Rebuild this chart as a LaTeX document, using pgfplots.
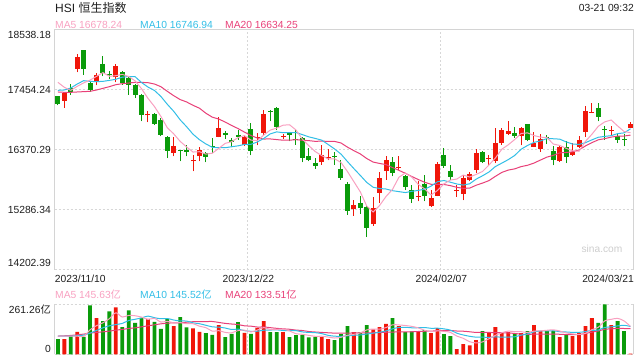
\documentclass[border=0pt]{standalone}
\usepackage{pgfplots}
\pgfplotsset{compat=1.18}
\usepackage{fontspec}
\setmainfont{Liberation Sans}
\newfontfamily\cjk{Noto Sans CJK SC}
\definecolor{upred}{RGB}{240,22,10}
\definecolor{dngreen}{RGB}{10,155,10}
\definecolor{maA}{RGB}{248,160,192}
\definecolor{maB}{RGB}{50,190,230}
\definecolor{maC}{RGB}{232,64,120}
\definecolor{gridc}{RGB}{215,215,215}
\definecolor{framec}{RGB}{212,212,212}
\definecolor{txt}{RGB}{30,30,30}
\definecolor{wm}{RGB}{205,205,205}
\pgfplotsset{
  kpanel/.style={
    scale only axis, width=579bp, xmin=-0.5, xmax=89.5,
    enlargelimits=false, scaled x ticks=false, scaled y ticks=false,
    axis line style={draw=none}, major tick length=0pt,
    xtick={29.5,59.5}, xticklabels={}, yticklabels={},
    xmajorgrids, ymajorgrids,
    major grid style={gridc, line width=0.9bp, dash pattern=on 2bp off 2bp},
    clip=false, unbounded coords=jump,
  },
  wick/.style={line width=1bp},
  body/.style={line width=5bp},
  maline/.style={line width=1bp, no marks},
}
\newcommand{\sz}[1]{\fontsize{#1}{#1}\selectfont}
\begin{document}
\begin{tikzpicture}[x=1bp,y=1bp]
\useasboundingbox (0,0) rectangle (640,360);
% ---------------- main candlestick panel ----------------
\begin{axis}[kpanel, at={(54.7bp,90.3bp)}, anchor=south west, height=240bp,
  ymin=14202.39, ymax=18538.18,
  ytick={14202.39,15286.34,16370.29,17454.24,18538.18}]
\draw[framec, line width=1bp] (rel axis cs:0,0) -- (rel axis cs:0,1) -- (rel axis cs:1,1) -- (rel axis cs:1,0);
% red wicks
\addplot[wick, upred] coordinates {
(1,17124)(1,17407)(1,nan) (3,17768)(3,18099)(3,nan) (6,17533)(6,17756)(6,nan) (9,17587)(9,17925)(9,nan)
(14,16865)(14,17063)(14,nan) (18,16250)(18,16594)(18,nan) (21,15979)(21,16269)(21,nan) (22,16160)(22,16413)(22,nan)
(25,16594)(25,16961)(25,nan) (29,16443)(29,16642)(29,nan) (31,16449)(31,16672)(31,nan) (32,16642)(32,17094)(32,nan)
(35,16564)(35,16654)(35,nan) (41,16100)(41,16449)(41,nan) (42,16178)(42,16389)(42,nan) (46,15179)(46,15456)(46,nan)
(49,14998)(49,15516)(49,nan) (50,15407)(50,15967)(50,nan) (51,15829)(51,16250)(51,nan) (53,16010)(53,16250)(53,nan)
(56,15438)(56,15799)(56,nan) (58,15335)(58,15648)(58,nan) (59,15528)(59,16148)(59,nan) (62,15522)(62,15733)(62,nan)
(63,15456)(63,15919)(63,nan) (64,15799)(64,15967)(64,nan) (65,15949)(65,16389)(65,nan) (67,16070)(67,16269)(67,nan)
(68,16130)(68,16762)(68,nan) (69,16461)(69,16762)(69,nan) (70,16642)(70,16895)(70,nan) (72,16449)(72,16780)(72,nan)
(74,16419)(74,16684)(74,nan) (75,16329)(75,16654)(75,nan) (78,16148)(78,16461)(78,nan) (80,16263)(80,16491)(80,nan)
(81,16401)(81,16612)(81,nan) (82,16600)(82,17166)(82,nan) (83,17033)(83,17214)(83,nan) (86,16642)(86,16792)(86,nan)
(89,16762)(89,16865)};
% red bodies (open, close)
\addplot[body, upred] coordinates {
(1,17256)(1,17395)(1,nan) (3,17834)(3,18045)(3,nan) (6,17617)(6,17726)(6,nan) (9,17678)(9,17882)(9,nan)
(14,16991)(14,17015)(14,nan) (18,16311)(18,16443)(18,nan) (21,16160)(21,16178)(21,nan) (22,16250)(22,16371)(22,nan)
(25,16606)(25,16762)(25,nan) (29,16461)(29,16600)(29,nan) (31,16582)(31,16600)(31,nan) (32,16672)(32,17015)(32,nan)
(35,16606)(35,16618)(35,nan) (41,16148)(41,16281)(41,nan) (42,16232)(42,16244)(42,nan) (46,15299)(46,15365)(46,nan)
(49,15028)(49,15311)(49,nan) (50,15594)(50,15859)(50,nan) (51,15992)(51,16184)(51,nan) (53,16040)(53,16058)(53,nan)
(56,15522)(56,15534)(56,nan) (58,15347)(58,15498)(58,nan) (59,15540)(59,16112)(59,nan) (62,15624)(62,15636)(62,nan)
(63,15576)(63,15859)(63,nan) (64,15817)(64,15937)(64,nan) (65,16010)(65,16311)(65,nan) (67,16202)(67,16214)(67,nan)
(68,16172)(68,16491)(68,nan) (69,16491)(69,16732)(69,nan) (70,16654)(70,16708)(70,nan) (72,16624)(72,16762)(72,nan)
(74,16425)(74,16491)(74,nan) (75,16389)(75,16564)(75,nan) (78,16172)(78,16413)(78,nan) (80,16281)(80,16329)(80,nan)
(81,16419)(81,16552)(81,nan) (82,16690)(82,17075)(82,nan) (83,17039)(83,17051)(83,nan) (86,16702)(86,16720)(86,nan)
(89,16762)(89,16835)};
% green wicks
\addplot[wick, dngreen] coordinates {
(0,17172)(0,17346)(0,nan) (2,17365)(2,17557)(2,nan) (4,17726)(4,18171)(4,nan) (5,17413)(5,17605)(5,nan)
(7,17696)(7,18057)(7,nan) (8,17654)(8,17798)(8,nan) (10,17545)(10,17786)(10,nan) (11,17365)(11,17678)(11,nan)
(12,17304)(12,17557)(12,nan) (13,16883)(13,17377)(13,nan) (15,16823)(15,17033)(15,nan) (16,16612)(16,16943)(16,nan)
(17,16220)(17,16612)(17,nan) (19,16160)(19,16371)(19,nan) (20,16250)(20,16461)(20,nan) (23,16142)(23,16323)(23,nan)
(24,16311)(24,16582)(24,nan) (26,16564)(26,16702)(26,nan) (27,16413)(27,16582)(27,nan) (28,16552)(28,16732)(28,nan)
(30,16269)(30,16853)(30,nan) (33,16883)(33,17094)(33,nan) (34,16732)(34,17142)(34,nan) (36,16521)(36,16690)(36,nan)
(37,16461)(37,16732)(37,nan) (38,16142)(38,16594)(38,nan) (39,16160)(39,16401)(39,nan) (40,16028)(40,16220)(40,nan)
(43,16100)(43,16329)(43,nan) (44,15829)(44,16190)(44,nan) (45,15197)(45,15781)(45,nan) (47,15209)(47,15528)(47,nan)
(48,14793)(48,15347)(48,nan) (52,15889)(52,16232)(52,nan) (54,15648)(54,15919)(54,nan) (55,15407)(55,15739)(55,nan)
(57,15438)(57,15907)(57,nan) (60,16040)(60,16401)(60,nan) (61,15829)(61,16088)(61,nan) (66,16130)(66,16341)(66,nan)
(71,16582)(71,16780)(71,nan) (73,16521)(73,16841)(73,nan) (76,16473)(76,16642)(76,nan) (77,16088)(77,16443)(77,nan)
(79,16130)(79,16521)(79,nan) (84,16883)(84,17214)(84,nan) (85,16552)(85,16792)(85,nan) (87,16491)(87,16672)(87,nan)
(88,16431)(88,16654)};
% green bodies (open, close)
\addplot[body, dngreen] coordinates {
(0,17334)(0,17196)(0,nan) (2,17485)(2,17413)(2,nan) (4,18165)(4,17834)(4,nan) (5,17575)(5,17455)(5,nan)
(7,17919)(7,17756)(7,nan) (8,17738)(8,17714)(8,nan) (10,17768)(10,17575)(10,nan) (11,17666)(11,17533)(11,nan)
(12,17545)(12,17365)(12,nan) (13,17365)(13,17003)(13,nan) (15,17015)(15,16841)(15,nan) (16,16913)(16,16642)(16,nan)
(17,16600)(17,16341)(17,nan) (19,16359)(19,16341)(19,nan) (20,16359)(20,16335)(20,nan) (23,16311)(23,16232)(23,nan)
(24,16437)(24,16419)(24,nan) (26,16672)(26,16642)(26,nan) (27,16552)(27,16515)(27,nan) (28,16636)(28,16606)(28,nan)
(30,16744)(30,16353)(30,nan) (33,17069)(33,17051)(33,nan) (34,17124)(34,16780)(34,nan) (36,16672)(36,16642)(36,nan)
(37,16564)(37,16546)(37,nan) (38,16582)(38,16220)(38,nan) (39,16250)(39,16190)(39,nan) (40,16130)(40,16082)(40,nan)
(43,16257)(43,16232)(43,nan) (44,16022)(44,15859)(44,nan) (45,15757)(45,15269)(45,nan) (47,15407)(47,15317)(47,nan)
(48,15335)(48,14956)(48,nan) (52,16148)(52,15949)(52,nan) (54,15901)(54,15696)(54,nan) (55,15636)(55,15486)(55,nan)
(57,15757)(57,15540)(57,nan) (60,16275)(60,16082)(60,nan) (61,15979)(61,15877)(61,nan) (66,16329)(66,16148)(66,nan)
(71,16672)(71,16624)(71,nan) (73,16835)(73,16546)(73,nan) (76,16606)(76,16588)(76,nan) (77,16341)(77,16178)(77,nan)
(79,16413)(79,16238)(79,nan) (84,17124)(84,16961)(84,nan) (85,16738)(85,16726)(85,nan) (87,16624)(87,16540)(87,nan)
(88,16558)(88,16546)};
% MA20
\addplot[maline, maC] coordinates {
(0,17413)(1,17407)(2,17407)(3,17413)(4,17419)(5,17425)(6,17449)(7,17479)(8,17509)(9,17545)
(10,17563)(11,17575)(12,17587)(13,17587)(14,17581)(15,17557)(16,17509)(17,17425)(18,17346)(19,17276)
(20,17233)(21,17172)(22,17120)(23,17029)(24,16958)(25,16924)(26,16870)(27,16808)(28,16752)(29,16688)
(30,16627)(31,16580)(32,16563)(33,16565)(34,16553)(35,16542)(36,16542)(37,16552)(38,16541)(39,16534)
(40,16521)(41,16526)(42,16520)(43,16520)(44,16492)(45,16417)(46,16353)(47,16294)(48,16211)(49,16147)
(50,16122)(51,16101)(52,16048)(53,15998)(54,15944)(55,15887)(56,15832)(57,15782)(58,15746)(59,15742)
(60,15742)(61,15721)(62,15691)(63,15672)(64,15676)(65,15728)(66,15767)(67,15812)(68,15889)(69,15960)
(70,16002)(71,16024)(72,16065)(73,16089)(74,16129)(75,16183)(76,16236)(77,16268)(78,16313)(79,16320)
(80,16332)(81,16366)(82,16438)(83,16498)(84,16549)(85,16570)(86,16598)(87,16615)(88,16617)(89,16634)};
% MA10
\addplot[maline, maB] coordinates {
(0,17443)(1,17449)(2,17485)(3,17557)(4,17617)(5,17605)(6,17599)(7,17605)(8,17623)(9,17642)
(10,17680)(11,17693)(12,17689)(13,17584)(14,17502)(15,17441)(16,17333)(17,17191)(18,17064)(19,16910)
(20,16786)(21,16650)(22,16551)(23,16474)(24,16414)(25,16406)(26,16406)(27,16424)(28,16440)(29,16466)
(30,16468)(31,16510)(32,16574)(33,16656)(34,16692)(35,16678)(36,16678)(37,16681)(38,16643)(39,16602)
(40,16574)(41,16543)(42,16465)(43,16384)(44,16291)(45,16157)(46,16029)(47,15906)(48,15780)(49,15692)
(50,15669)(51,15660)(52,15630)(53,15613)(54,15596)(55,15618)(56,15635)(57,15657)(58,15712)(59,15792)
(60,15814)(61,15783)(62,15751)(63,15731)(64,15755)(65,15838)(66,15899)(67,15967)(68,16066)(69,16128)
(70,16191)(71,16266)(72,16379)(73,16447)(74,16503)(75,16528)(76,16572)(77,16568)(78,16561)(79,16511)
(80,16473)(81,16466)(82,16497)(83,16548)(84,16595)(85,16611)(86,16624)(87,16661)(88,16674)(89,16747)};
% MA5
\addplot[maline, maA] coordinates {
(0,17587)(1,17497)(2,17443)(3,17515)(4,17577)(5,17628)(6,17695)(7,17763)(8,17697)(9,17707)
(10,17731)(11,17692)(12,17614)(13,17472)(14,17298)(15,17151)(16,16973)(17,16768)(18,16656)(19,16521)
(20,16420)(21,16328)(22,16334)(23,16291)(24,16307)(25,16393)(26,16485)(27,16514)(28,16589)(29,16625)
(30,16543)(31,16535)(32,16635)(33,16724)(34,16760)(35,16813)(36,16821)(37,16727)(38,16561)(39,16443)
(40,16336)(41,16264)(42,16204)(43,16206)(44,16140)(45,15977)(46,15794)(47,15609)(48,15353)(49,15244)
(50,15362)(51,15525)(52,15652)(53,15872)(54,15949)(55,15875)(56,15745)(57,15663)(58,15551)(59,15634)
(60,15753)(61,15822)(62,15840)(63,15912)(64,15877)(65,15923)(66,15977)(67,16094)(68,16220)(69,16379)
(70,16459)(71,16554)(72,16664)(73,16674)(74,16626)(75,16597)(76,16590)(77,16473)(78,16447)(79,16396)
(80,16349)(81,16342)(82,16521)(83,16649)(84,16794)(85,16873)(86,16907)(87,16800)(88,16699)(89,16678)};
\end{axis}
% ---------------- volume panel ----------------
\begin{axis}[kpanel, at={(54.7bp,5.7bp)}, anchor=south west, height=50bp,
  ymin=0, ymax=261.26, ytick={0,261.26}]
\draw[framec, line width=1bp] (rel axis cs:0,0) -- (rel axis cs:0,1);
\draw[framec, line width=1bp] (rel axis cs:1,0) -- (rel axis cs:1,1);
\addplot[ybar, bar width=3.8bp, bar shift=0pt, fill=upred, draw=none] coordinates {
(1,79.6)(3,117.6)(6,188.6)(9,245.7)(14,185.1)(18,147.1)(21,134.9)(22,117.6)(25,152.2)(29,112.5)
(31,138.4)(32,173.0)(35,115.9)(41,91.7)(42,79.6)(46,115.9)(49,129.8)(50,141.9)(51,159.2)(53,147.1)
(56,119.4)(58,110.7)(59,136.7)(62,27.7)(63,53.6)(64,46.7)(65,74.4)(67,110.7)(68,141.9)(69,115.9)
(70,115.9)(72,110.7)(74,152.2)(75,121.1)(78,90.0)(80,95.2)(81,110.7)(82,147.1)(83,188.6)(86,152.2)(89,3.5)};
\addplot[ybar, bar width=3.8bp, bar shift=0pt, fill=dngreen, draw=none] coordinates {
(0,79.6)(2,98.6)(4,91.7)(5,256.0)(7,173.0)(8,224.9)(10,141.9)(11,230.1)(12,164.4)(13,190.3)
(15,169.5)(16,133.2)(17,185.1)(19,193.8)(20,140.1)(23,110.7)(24,102.1)(26,90.0)(27,107.3)(28,167.8)
(30,107.3)(33,115.9)(34,115.9)(36,90.0)(37,100.3)(38,100.3)(39,88.2)(40,91.7)(43,74.4)(44,105.5)
(45,147.1)(47,115.9)(48,152.2)(52,188.6)(54,115.9)(55,119.4)(57,126.3)(60,105.5)(61,95.2)(66,121.1)
(71,107.3)(73,121.1)(76,122.8)(77,122.8)(79,102.1)(84,164.4)(85,261.26)(87,173.0)(88,121.1)};
\addplot[maline, maC, smooth] coordinates {
(0,95.2)(1,96.9)(2,98.6)(3,102.1)(4,105.5)(5,110.7)(6,114.2)(7,117.6)(8,121.1)(9,126.3)
(10,129.8)(11,134.9)(12,138.4)(13,143.6)(14,148.8)(15,154.0)(16,159.2)(17,162.6)(18,164.4)(19,164.6)
(20,167.6)(21,170.4)(22,171.4)(23,171.0)(24,171.5)(25,166.5)(26,161.6)(27,158.3)(28,155.4)(29,148.8)
(30,147.1)(31,142.5)(32,142.9)(33,139.2)(34,135.7)(35,133.0)(36,130.9)(37,126.6)(38,124.3)(39,119.0)
(40,116.6)(41,114.4)(42,112.5)(43,110.7)(44,110.9)(45,110.6)(46,111.9)(47,112.4)(48,111.6)(49,112.5)
(50,114.2)(51,115.2)(52,116.0)(53,117.6)(54,117.6)(55,117.7)(56,119.2)(57,120.5)(58,121.0)(59,123.4)
(60,124.1)(61,124.3)(62,121.7)(63,120.7)(64,117.7)(65,114.1)(66,114.4)(67,114.1)(68,113.6)(69,112.9)
(70,111.6)(71,109.0)(72,105.1)(73,103.8)(74,105.6)(75,105.7)(76,105.9)(77,105.7)(78,104.7)(79,102.9)
(80,102.4)(81,103.2)(82,109.2)(83,115.9)(84,121.8)(85,131.1)(86,132.7)(87,135.8)(88,134.8)(89,133.5)};
\addplot[maline, maB, smooth] coordinates {
(0,95.2)(1,95.2)(2,95.2)(3,96.9)(4,100.3)(5,110.7)(6,124.6)(7,138.4)(8,148.8)(9,155.2)
(10,161.4)(11,176.5)(12,183.0)(13,190.3)(14,199.6)(15,191.3)(16,185.8)(17,187.0)(18,179.2)(19,174.0)
(20,173.9)(21,164.4)(22,159.7)(23,151.7)(24,143.4)(25,141.7)(26,137.4)(27,129.6)(28,131.7)(29,123.5)
(30,120.2)(31,120.6)(32,126.1)(33,126.6)(34,128.0)(35,124.4)(36,124.4)(37,123.7)(38,116.9)(39,114.5)
(40,113.0)(41,108.3)(42,99.0)(43,94.8)(44,93.8)(45,96.9)(46,99.5)(47,101.0)(48,106.2)(49,110.4)
(50,115.4)(51,122.1)(52,133.0)(53,140.3)(54,141.3)(55,138.6)(56,138.9)(57,140.0)(58,135.8)(59,136.5)
(60,132.9)(61,126.5)(62,110.4)(63,101.0)(64,94.1)(65,89.6)(66,89.8)(67,88.2)(68,91.3)(69,89.3)
(70,90.3)(71,91.5)(72,99.8)(73,106.6)(74,117.1)(75,121.8)(76,122.0)(77,123.2)(78,118.0)(79,116.6)
(80,114.5)(81,114.9)(82,118.5)(83,125.3)(84,126.5)(85,140.5)(86,143.4)(87,148.4)(88,151.5)(89,145.5)};
\addplot[maline, maA, smooth] coordinates {
(0,95.2)(1,95.2)(2,95.2)(3,95.2)(4,93.4)(5,128.0)(6,149.8)(7,164.7)(8,186.1)(9,216.9)
(10,194.8)(11,203.1)(12,201.4)(13,194.5)(14,182.3)(15,187.9)(16,168.5)(17,172.7)(18,164.0)(19,165.7)
(20,159.9)(21,160.2)(22,146.7)(23,139.4)(24,121.1)(25,123.5)(26,114.5)(27,112.5)(28,123.9)(29,125.9)
(30,116.9)(31,126.6)(32,139.8)(33,129.4)(34,130.1)(35,131.8)(36,122.1)(37,107.6)(38,104.5)(39,99.0)
(40,94.1)(41,94.5)(42,90.3)(43,85.1)(44,88.6)(45,99.6)(46,104.5)(47,111.8)(48,127.3)(49,132.2)
(50,131.1)(51,139.8)(52,154.3)(53,153.3)(54,150.5)(55,146.0)(56,138.1)(57,125.6)(58,118.3)(59,122.5)
(60,119.7)(61,114.9)(62,95.2)(63,83.7)(64,65.7)(65,59.5)(66,64.7)(67,81.3)(68,99.0)(69,112.8)
(70,121.1)(71,118.3)(72,118.3)(73,114.2)(74,121.4)(75,122.5)(76,125.6)(77,128.0)(78,121.8)(79,111.8)
(80,106.6)(81,104.1)(82,109.0)(83,128.7)(84,141.2)(85,174.4)(86,182.7)(87,187.9)(88,174.4)(89,145.6)};
\end{axis}
% ---------------- texts ----------------
\node[anchor=base west, inner sep=0pt, text=txt, font=\sz{12bp}] at (55,348) {HSI {\cjk 恒生指数}};
\node[anchor=base east, inner sep=0pt, text=txt, font=\sz{10.3bp}] at (634,348.3) {03-21 09:32};
\node[anchor=base west, inner sep=0pt, text=maA, font=\sz{10.3bp}] at (55,332) {MA5 16678.24};
\node[anchor=base west, inner sep=0pt, text=maB, font=\sz{10.3bp}] at (140,332) {MA10 16746.94};
\node[anchor=base west, inner sep=0pt, text=maC, font=\sz{10.3bp}] at (225,332) {MA20 16634.25};
\begin{scope}[every node/.style={anchor=base east, inner sep=0pt, text=txt, font=\sz{10.3bp}}]
\node at (51,321.3) {18538.18};
\node at (51,266.6) {17454.24};
\node at (51,206.6) {16370.29};
\node at (51,146.6) {15286.34};
\node at (51,93.3) {14202.39};
\node at (51,46.3) {261.26{\cjk 亿}};
\node at (51,8) {0};
\end{scope}
\node[anchor=base west, inner sep=0pt, text=txt, font=\sz{10.3bp}] at (54.7,78) {2023/11/10};
\node[anchor=base, inner sep=0pt, text=txt, font=\sz{10.3bp}] at (248.3,78) {2023/12/22};
\node[anchor=base, inner sep=0pt, text=txt, font=\sz{10.3bp}] at (441.3,78) {2024/02/07};
\node[anchor=base east, inner sep=0pt, text=txt, font=\sz{10.3bp}] at (634,78) {2024/03/21};
\node[anchor=base west, inner sep=0pt, text=maA, font=\sz{10.3bp}] at (55,62) {MA5 145.63{\cjk 亿}};
\node[anchor=base west, inner sep=0pt, text=maB, font=\sz{10.3bp}] at (140,62) {MA10 145.52{\cjk 亿}};
\node[anchor=base west, inner sep=0pt, text=maC, font=\sz{10.3bp}] at (225,62) {MA20 133.51{\cjk 亿}};
\node[anchor=base, inner sep=0pt, text=wm, font=\sz{10.2bp}] at (602,107.3) {sina.com};
\end{tikzpicture}
\end{document}
